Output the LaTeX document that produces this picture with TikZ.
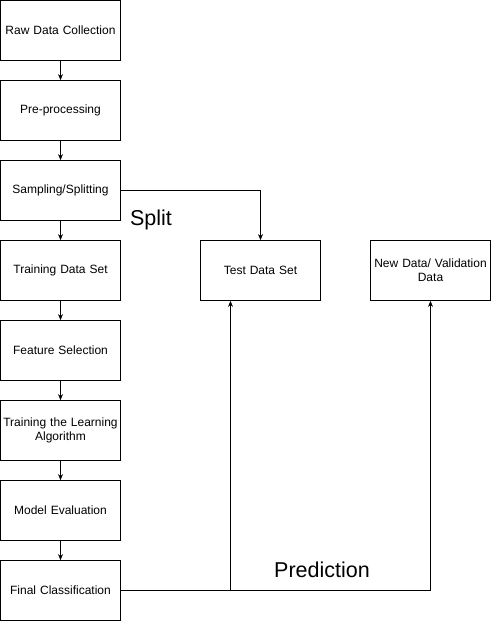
\documentclass[tikz,border=0pt]{standalone}
\usepackage{fontspec}
\setmainfont{Liberation Sans}
\usetikzlibrary{arrows.meta}
\begin{document}
\begin{tikzpicture}[x=1pt,y=-1pt,
  box/.style={draw,line width=0.8pt,minimum width=120pt,minimum height=60pt,inner sep=2pt,align=center,font=\fontsize{12}{14}\selectfont,text width=116pt},
  conn/.style={line width=0.8pt,-{Stealth[length=6pt,width=5pt]}},
  big/.style={font=\fontsize{21.5}{25}\selectfont}]
\useasboundingbox (0,0) rectangle (491,621);
\node[box] (raw) at (60.5,30.5) {Raw Data Collection};
\node[box] (pre) at (60.5,110.5) {Pre-processing};
\node[box] (samp) at (60.5,190.5) {Sampling/Splitting};
\node[box] (train) at (60.5,270.5) {Training Data Set};
\node[box] (feat) at (60.5,350.5) {Feature Selection};
\node[box] (alg) at (60.5,430.5) {Training the Learning\\Algorithm};
\node[box] (eval) at (60.5,510.5) {Model Evaluation};
\node[box] (final) at (60.5,590.5) {Final Classification};
\node[box] (test) at (260.5,270.5) {Test Data Set};
\node[box] (new) at (430.5,270.5) {New Data/ Validation\\Data};
\node[big] (split) at (151,220) {Split};
\node[big] (pred) at (322,570) {Prediction};
\coordinate (br) at (230.5,590.5);
\draw[conn] (raw) -- (pre);
\draw[conn] (pre) -- (samp);
\draw[conn] (samp) -- (train);
\draw[conn] (train) -- (feat);
\draw[conn] (feat) -- (alg);
\draw[conn] (alg) -- (eval);
\draw[conn] (eval) -- (final);
\draw[conn] (samp.east) -| (test.north);
\draw[conn] (final.east) -| (new.south);
\draw[conn] (br) -- (br |- test.south);
\end{tikzpicture}
\end{document}
